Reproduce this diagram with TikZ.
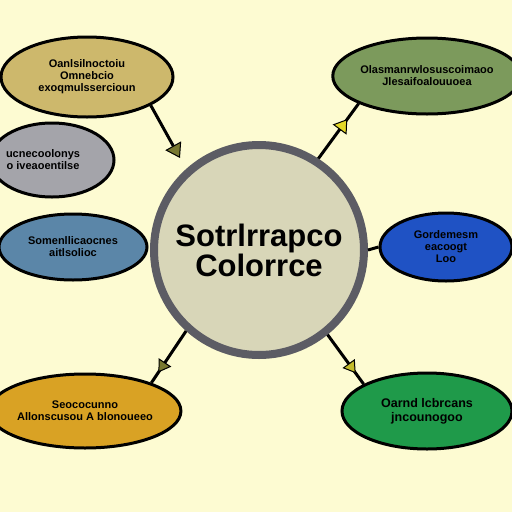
\documentclass[tikz,border=0pt]{standalone}
\usepackage{fontspec}
\setmainfont{Liberation Sans}
\usetikzlibrary{shapes.geometric,arrows.meta,decorations.markings}
\definecolor{bg}{RGB}{253,251,210}
\definecolor{ctan}{RGB}{205,184,108}
\definecolor{cgray}{RGB}{164,164,170}
\definecolor{cbluegray}{RGB}{91,134,168}
\definecolor{colive}{RGB}{124,154,92}
\definecolor{cblue}{RGB}{31,82,196}
\definecolor{corange}{RGB}{217,162,36}
\definecolor{cgreen}{RGB}{31,154,74}
\definecolor{cfill}{RGB}{216,214,184}
\definecolor{cring}{RGB}{92,92,100}
\definecolor{tipolive}{RGB}{120,120,48}
\definecolor{tipyellow}{RGB}{228,216,40}
\tikzset{
  bubble/.style={ellipse, draw=black, line width=3pt, inner sep=0pt, align=center,
    font=\fontsize{11}{12}\selectfont\bfseries},
  conn/.style={draw=black, line width=3pt},
  tipO/.style={-{Triangle[width=18pt,length=14pt,fill=tipolive,line width=1pt]}},
}
\begin{document}
\begin{tikzpicture}[x=1pt,y=-1pt]
\useasboundingbox (0,0) rectangle (512,512);
\fill[bg] (0,0) rectangle (512,512);
\begin{scope}
\clip (0,0) rectangle (512,512);
% center
\node[circle, draw=cring, fill=cfill, line width=8pt, minimum size=210pt, inner sep=0pt,
  align=center, font=\fontsize{31}{33}\selectfont\bfseries] (c) at (259,250) {Sotrlrrapco\\[-3pt]Colorrce};
% bubbles
\node[bubble, fill=ctan, minimum width=172pt, minimum height=80pt] (tl) at (87,77)
  {Oanlsilnoctoiu\\Omnebcio\\exoqmulssercioun};
\node[bubble, fill=cgray, minimum width=124pt, minimum height=74pt] (gl) at (52,160)
  {\hspace*{-18pt}ucnecoolonys\\\hspace*{-18pt}o iveaoentilse};
\node[bubble, fill=cbluegray, minimum width=148pt, minimum height=66pt] (bg) at (73,247)
  {Somenllicaocnes\\aitlsolioc};
\node[bubble, fill=colive, minimum width=172pt, minimum height=76pt] (tr) at (427,76)
  {Olasmanrwlosuscoimaoo\\Jlesaifoalouuoea};
\node[bubble, fill=cblue, minimum width=132pt, minimum height=68pt] (rb) at (446,247)
  {Gordemesm\\eacoogt\\Loo};
\node[bubble, fill=corange, minimum width=180pt, minimum height=74pt] (bl) at (85,411)
  {Seococunno\\Allonscusou A blonoueeo};
\node[bubble, fill=cgreen, minimum width=170pt, minimum height=76pt,
  font=\fontsize{12.5}{14}\selectfont\bfseries] (br) at (427,411)
  {Oarnd lcbrcans\\jncounogoo};
\end{scope}
% connectors
\coordinate (a1) at (180,158);
\draw[conn, tipO] (tl.-24) -- (a1);
\draw[conn, postaction={decorate, decoration={markings,
   mark=at position 0.72 with {\arrow{Triangle[width=17pt,length=13pt,fill=tipyellow,line width=1pt]}}}}]
   (c.57) -- (tr.202);
\draw[conn] (c.0) -- (rb.180);
\draw[conn, postaction={decorate, decoration={markings,
   mark=at position 0.8 with {\arrow{Triangle[width=15pt,length=12pt,fill=tipolive,line width=1pt]}}}}]
   (c.228) -- (bl.23);
\draw[conn, postaction={decorate, decoration={markings,
   mark=at position 0.78 with {\arrow{Triangle[width=15pt,length=12pt,fill=tipyellow!70!tipolive,line width=1pt]}}}}]
   (c.-51) -- (br.157);
\end{tikzpicture}
\end{document}
